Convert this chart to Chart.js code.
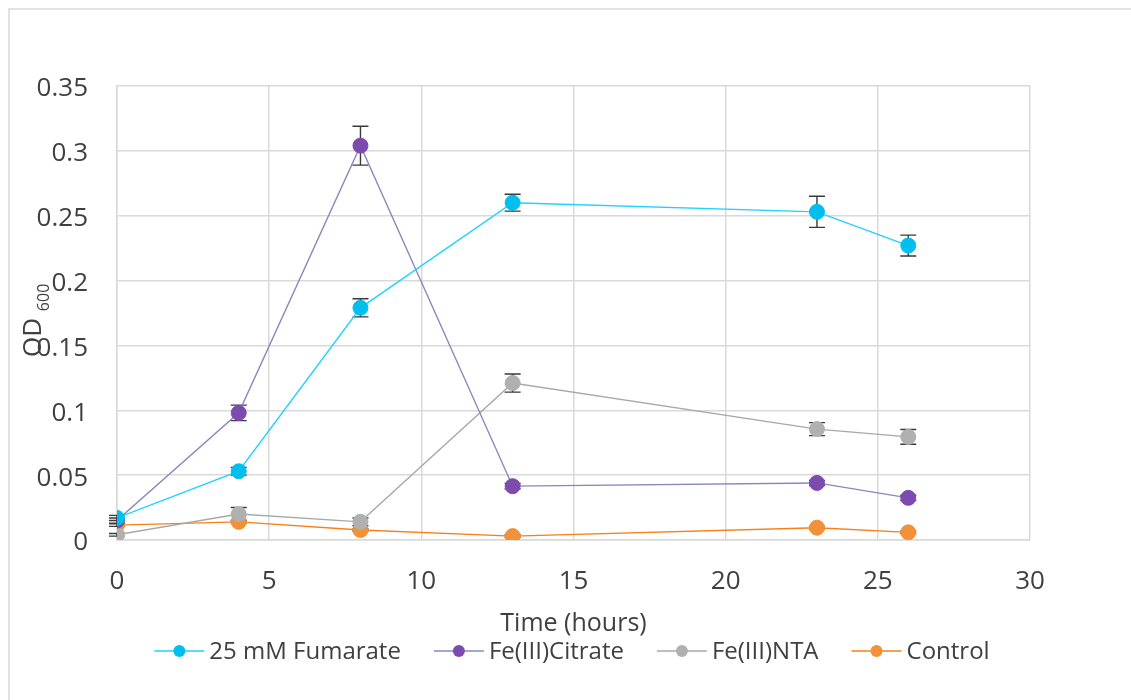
<!DOCTYPE html>
<html>
<head>
<meta charset="utf-8">
<title>OD600 growth</title>
<script src="https://cdn.jsdelivr.net/npm/chart.js@4.4.1/dist/chart.umd.min.js"></script>
<style>
  html, body { margin: 0; padding: 0; background: #fff; }
  #wrap { position: relative; width: 1131px; height: 700px; overflow: hidden; }
  #frame { position: absolute; left: 8px; top: 8px; width: 1300px; height: 900px;
           border-top: 2px solid #e2e2e2; border-left: 2px solid #e2e2e2; }
  #growth { position: absolute; left: 0; top: 0; }
</style>
</head>
<body>
<div id="wrap">
  <div id="frame"></div>
  <canvas id="growth" width="1131" height="700"></canvas>
</div>
<script>
// ---- data ----
const hours = [0, 4, 8, 13, 23, 26];

const fumarate    = [0.017, 0.053, 0.179, 0.260, 0.253, 0.227];
const fumarateErr = [0.002, 0.003, 0.007, 0.0065, 0.012, 0.008];

const citrate    = [0.015, 0.098, 0.304, 0.0415, 0.044, 0.0325];
const citrateErr = [0.002, 0.006, 0.015, 0.002, 0.002, 0.002];

const nta    = [0.004, 0.020, 0.014, 0.121, 0.0855, 0.0795];
const ntaErr = [0.001, 0.005, 0.003, 0.007, 0.005, 0.0057];

const control    = [0.0115, 0.014, 0.0077, 0.003, 0.0095, 0.0059];
const controlErr = [0.001, 0.001, 0.001, 0.001, 0.001, 0.001];

const yTickLabels = ['0', '0.05', '0.1', '0.15', '0.2', '0.25', '0.3', '0.35'];
const xTickLabels = ['0', '5', '10', '15', '20', '25', '30'];

const TEXT = '#404040';
const FONT = '"Open Sans", sans-serif';

const toPoints = vals => hours.map((h, i) => ({ x: h, y: vals[i] }));

function series(label, vals, errs, lineColor, dotColor) {
    return {
        label,
        data: toPoints(vals),
        errors: errs,
        borderColor: lineColor,
        backgroundColor: dotColor,
        pointBackgroundColor: dotColor,
        pointBorderColor: dotColor,
        pointRadius: 7.5,
        pointHoverRadius: 7.5,
        pointBorderWidth: 1,
        borderWidth: 1.4,
        tension: 0,
    };
}

// ---- plugins ----
const errorBars = {
    id: 'errorBars',
    beforeDatasetsDraw(chart) {
        const { ctx, scales: { x, y } } = chart;
        ctx.save();
        ctx.strokeStyle = '#3a3a3a';
        ctx.lineWidth = 1.4;
        chart.data.datasets.forEach((ds, i) => {
            if (!chart.isDatasetVisible(i)) return;
            ds.data.forEach((p, j) => {
                const e = ds.errors[j];
                const px = x.getPixelForValue(p.x);
                const top = y.getPixelForValue(p.y + e);
                const bot = y.getPixelForValue(p.y - e);
                ctx.beginPath();
                ctx.moveTo(px, top); ctx.lineTo(px, bot);
                ctx.moveTo(px - 8, top); ctx.lineTo(px + 8, top);
                ctx.moveTo(px - 8, bot); ctx.lineTo(px + 8, bot);
                ctx.stroke();
            });
        });
        ctx.restore();
    },
};

const yTitle = {
    id: 'yTitle',
    afterDraw(chart) {
        const ctx = chart.ctx;
        ctx.save();
        ctx.translate(34, 357);
        ctx.rotate(-Math.PI / 2);
        ctx.fillStyle = TEXT;
        ctx.textAlign = 'left';
        ctx.textBaseline = 'middle';
        ctx.font = '26px ' + FONT;
        ctx.fillText('OD', 0, 0);
        const w = ctx.measureText('OD ').width;
        ctx.font = '16px ' + FONT;
        ctx.fillText('600', w, 10);
        ctx.restore();
    },
};

// one-row legend under the axis title: line + dot swatch, then label
const lineLegend = {
    id: 'lineLegend',
    afterDraw(chart) {
        const ctx = chart.ctx;
        const sw = 50, gap = 5, spacing = 33, rowY = 651;
        ctx.save();
        ctx.font = '24px ' + FONT;
        const items = chart.data.datasets.map(ds => ({ ds, w: ctx.measureText(ds.label).width }));
        const total = items.reduce((a, it) => a + sw + gap + it.w, 0) + spacing * (items.length - 1);
        let x = 572 - total / 2;
        ctx.textBaseline = 'middle';
        ctx.textAlign = 'left';
        items.forEach(({ ds, w }) => {
            ctx.strokeStyle = ds.borderColor;
            ctx.lineWidth = 1.6;
            ctx.beginPath(); ctx.moveTo(x, rowY); ctx.lineTo(x + sw, rowY); ctx.stroke();
            ctx.fillStyle = ds.pointBackgroundColor;
            ctx.beginPath(); ctx.arc(x + sw / 2, rowY, 6, 0, Math.PI * 2); ctx.fill();
            ctx.fillStyle = TEXT;
            ctx.fillText(ds.label, x + sw + gap, rowY + 1);
            x += sw + gap + w + spacing;
        });
        ctx.restore();
    },
};

// ---- chart ----
new Chart(document.getElementById('growth'), {
    type: 'line',
    data: {
        datasets: [
            series('25 mM Fumarate', fumarate, fumarateErr, '#1fd3ff', '#00bfef'),
            series('Fe(III)Citrate', citrate, citrateErr, '#8a87bd', '#7d4bb0'),
            series('Fe(III)NTA', nta, ntaErr, '#a8a8a8', '#b0b0b0'),
            series('Control', control, controlErr, '#f7801a', '#f39138'),
        ],
    },
    options: {
        responsive: false,
        animation: false,
        layout: { padding: { top: 86, right: 101, left: 0, bottom: 60 } },
        scales: {
            x: {
                type: 'linear',
                min: 0, max: 30,
                afterFit: s => { s.height = 100; },
                grid: { color: '#d9d9d9', lineWidth: 1.5, drawTicks: false },
                border: { color: '#d9d9d9', width: 1.5 },
                ticks: {
                    stepSize: 5, padding: 26, color: TEXT,
                    font: { family: FONT, size: 26 },
                    callback: (v, i) => xTickLabels[i],
                },
                title: {
                    display: true, text: 'Time (hours)', color: TEXT,
                    font: { family: FONT, size: 25 }, padding: { top: 8, bottom: 1 },
                },
            },
            y: {
                min: 0, max: 0.35,
                afterFit: s => { s.width = 117; },
                grid: { color: '#d9d9d9', lineWidth: 1.5, drawTicks: false },
                border: { color: '#d9d9d9', width: 1.5 },
                ticks: {
                    stepSize: 0.05, padding: 29, labelOffset: 3, color: TEXT,
                    font: { family: FONT, size: 26 },
                    callback: (v, i) => yTickLabels[i],
                },
            },
        },
        plugins: {
            legend: { display: false },
            tooltip: { enabled: false },
        },
    },
    plugins: [errorBars, yTitle, lineLegend],
});
</script>
</body>
</html>
